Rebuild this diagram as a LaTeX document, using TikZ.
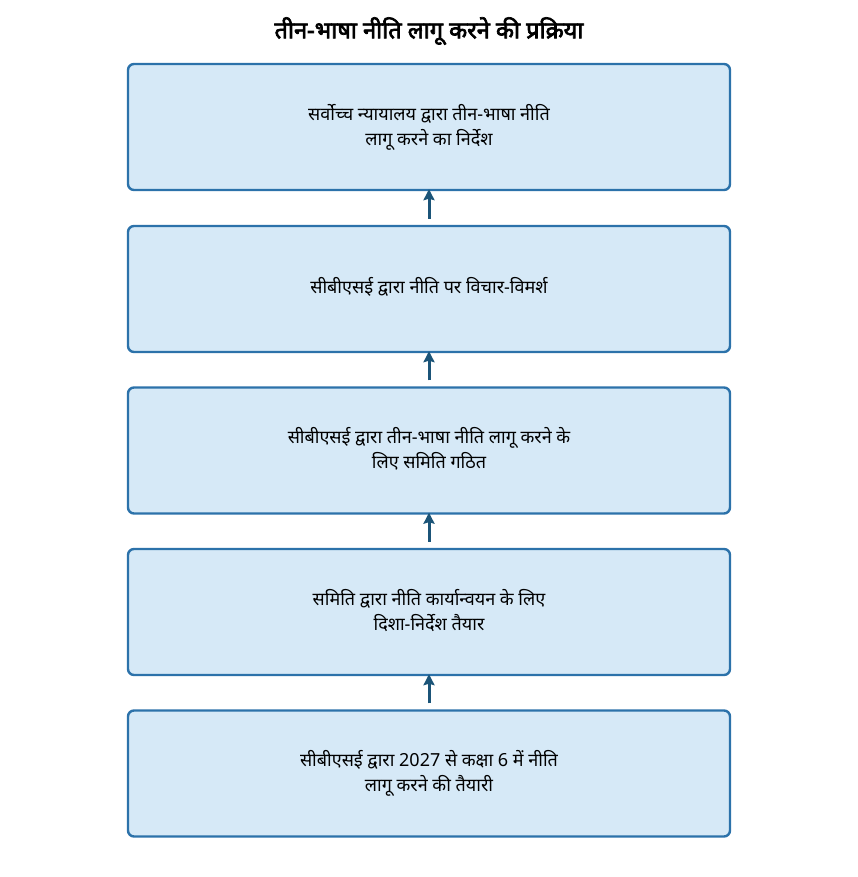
\documentclass[tikz,border=0pt]{standalone}
\usepackage{fontspec}
\setmainfont[Script=Devanagari]{Noto Sans}
\newfontfamily\titlefont[Script=Devanagari,FakeBold=3]{Noto Sans}
\usetikzlibrary{arrows.meta}
\definecolor{boxfill}{HTML}{D6E9F7}
\definecolor{boxline}{HTML}{2C72AA}
\definecolor{arrowc}{HTML}{1B5478}
\newcommand{\twolines}[2]{\raisebox{19pt}{\begin{tabular}{@{}c@{}}#1\\#2\end{tabular}}}
\begin{document}
\begin{tikzpicture}[x=1pt,y=-1pt,
  stepbox/.style={draw=boxline,fill=boxfill,line width=2.4pt,rounded corners=6pt,
    minimum width=602pt,minimum height=126pt,align=center,font=\fontsize{18}{25}\selectfont,
    inner sep=0pt,text depth=0pt},
  flowarrow/.style={draw=arrowc,line width=3pt,-{Stealth[length=11pt,width=11pt,inset=1.5pt]}}]
\useasboundingbox (0,0) rectangle (858,877);
\node[font=\titlefont\fontsize{23.5}{28}\selectfont] (title) at (429,31) {तीन-भाषा नीति लागू करने की प्रक्रिया};
\node[stepbox] (b1) at (429,127) {\twolines{सर्वोच्च न्यायालय द्वारा तीन-भाषा नीति}{लागू करने का निर्देश}};
\node[stepbox] (b2) at (429,289) {\raisebox{7pt}{सीबीएसई द्वारा नीति पर विचार-विमर्श}};
\node[stepbox] (b3) at (429,450.5) {\twolines{सीबीएसई द्वारा तीन-भाषा नीति लागू करने के}{लिए समिति गठित}};
\node[stepbox] (b4) at (429,612) {\twolines{समिति द्वारा नीति कार्यान्वयन के लिए}{दिशा-निर्देश तैयार}};
\node[stepbox] (b5) at (429,773.5) {\twolines{सीबीएसई द्वारा 2027 से कक्षा 6 में नीति}{लागू करने की तैयारी}};
\draw[flowarrow] ([yshift=6pt]b2.north) -- ([yshift=2pt]b1.south);
\draw[flowarrow] ([yshift=6pt]b3.north) -- ([yshift=2pt]b2.south);
\draw[flowarrow] ([yshift=6pt]b4.north) -- ([yshift=2pt]b3.south);
\draw[flowarrow] ([yshift=6pt]b5.north) -- ([yshift=2pt]b4.south);
\end{tikzpicture}
\end{document}
